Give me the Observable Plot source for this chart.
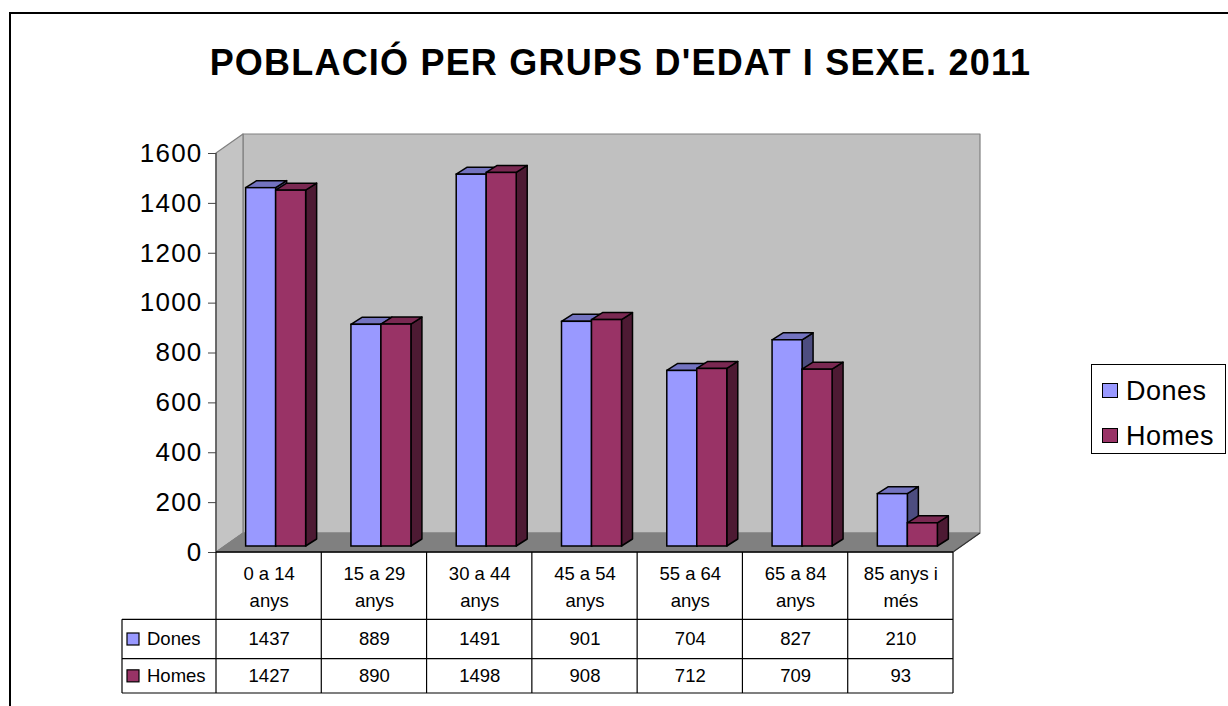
<!DOCTYPE html>
<html>
<head>
<meta charset="utf-8">
<script src="https://cdn.jsdelivr.net/npm/d3@7"></script>
<script src="https://cdn.jsdelivr.net/npm/@observablehq/plot@0.6"></script>
<style>
  html, body { margin: 0; padding: 0; background: #fff; }
  body { width: 1228px; height: 706px; position: relative; overflow: hidden; font-family: Arial, "Liberation Sans", sans-serif; }
  #frame { position: absolute; left: 8.5px; top: 12px; width: 1300px; height: 800px; border-left: 2.5px solid #000; border-top: 2.5px solid #000; box-sizing: border-box; }
  #title { position: absolute; left: 0; width: 1241px; top: 45px; text-align: center; font-weight: bold; font-size: 36px; line-height: 36px; letter-spacing: 1.2px; color: #000; white-space: nowrap; }
  #chart { position: absolute; left: 0; top: 0; }
  #legend { position: absolute; left: 1091px; top: 364px; width: 135px; height: 90px; border: 1px solid #000; box-sizing: border-box; background: #fff; }
  .li { position: absolute; left: 10px; height: 30px; font-size: 27px; line-height: 30px; letter-spacing: 0.5px; white-space: nowrap; }
  .sw { position: absolute; left: 0; top: 7px; width: 16px; height: 15px; border: 1px solid #000; box-sizing: border-box; }
  .li span.t { position: absolute; left: 24px; top: 0; }
  g[aria-label="y-axis tick label"] text { letter-spacing: 1.2px; }
</style>
</head>
<body>
<div id="frame"></div>
<div id="title">POBLACIÓ PER GRUPS D'EDAT I SEXE. 2011</div>
<div id="chart"></div>
<div id="legend"></div>
<script>
// ---------- data ----------
const categories = ["0 a 14 anys", "15 a 29 anys", "30 a 44 anys", "45 a 54 anys", "55 a 64 anys", "65 a 84 anys", "85 anys i més"];
const categoryLabels = ["0 a 14\nanys", "15 a 29\nanys", "30 a 44\nanys", "45 a 54\nanys", "55 a 64\nanys", "65 a 84\nanys", "85 anys i\nmés"];
const dones = [1437, 889, 1491, 901, 704, 827, 210];
const homes = [1427, 890, 1498, 908, 712, 709, 93];
const seriesNames = ["Dones", "Homes"];
const yTicks = [0, 200, 400, 600, 800, 1000, 1200, 1400, 1600];

// ---------- style ----------
const colors = {
  Dones: { front: "#9999FF", top: "#7373C0", side: "#4D4D80" },
  Homes: { front: "#993366", top: "#7A2952", side: "#4D1A33" }
};
const W = 1228, H = 706;
const mL = 223, mR = 268, mT = 153, mB = 154;
const bw = (W - mL - mR) / categories.length;
const barW = 30;
const barDY = -6;           // bars sit a little behind the front plane
const barDepth = [11, -7];  // 3D depth of bars
const wallDepth = [27, -19];
const tableShift = -7;      // table columns vs bar bands
const rowLines = [67.3, 106.7, 141]; // table rows below the floor edge
const legendColW = 94;

const rows = categories.map((c, i) => ({ cat: c, label: categoryLabels[i], Dones: dones[i], Homes: homes[i] }));

function poly(g, pts, fill, stroke, sw) {
  g.append("path")
    .attr("d", "M" + pts.map(p => p.join(",")).join("L") + "Z")
    .attr("fill", fill).attr("stroke", stroke).attr("stroke-width", sw)
    .attr("stroke-linejoin", "round");
}
function line(g, x1, y1, x2, y2, stroke, sw) {
  g.append("line").attr("x1", x1).attr("y1", y1).attr("x2", x2).attr("y2", y2)
    .attr("stroke", stroke).attr("stroke-width", sw);
}

// walls and floor
const walls = (index, scales) => {
  const g = d3.create("svg:g");
  const xr = scales.x.range();
  const x0 = Math.min(...xr) + tableShift, x1 = Math.max(...xr) + tableShift;
  const y0 = scales.y(0), yT = scales.y(1600);
  const [dx, dy] = wallDepth;
  poly(g, [[x0 + dx, yT + dy], [x1 + dx, yT + dy], [x1 + dx, y0 + dy], [x0 + dx, y0 + dy]], "#C0C0C0", "#808080", 1.2);
  poly(g, [[x0, yT], [x0 + dx, yT + dy], [x0 + dx, y0 + dy], [x0, y0]], "#C4C4C4", "#808080", 1.2);
  poly(g, [[x0, y0], [x1, y0], [x1 + dx, y0 + dy], [x0 + dx, y0 + dy]], "#808080", "#808080", 1);
  line(g, x1, y0, x1 + dx, y0 + dy, "#333", 1.2);
  line(g, x0, yT, x0, y0, "#555", 1.5);
  return g.node();
};

// top & side faces of the bars
function faces(series, insetL, insetR) {
  return (index, scales) => {
    const g = d3.create("svg:g");
    const b = scales.x.bandwidth ? scales.x.bandwidth() : bw;
    const [dx, dy] = barDepth;
    rows.forEach(r => {
      const xl = scales.x(r.cat) + insetL, xr = scales.x(r.cat) + b - insetR;
      const yt = scales.y(r[series]) + barDY, yb = scales.y(0) + barDY;
      poly(g, [[xr, yt], [xr + dx, yt + dy], [xr + dx, yb + dy], [xr, yb]], colors[series].side, "#000", 1.5);
      poly(g, [[xl, yt], [xl + dx, yt + dy], [xr + dx, yt + dy], [xr, yt]], colors[series].top, "#000", 1.5);
    });
    return g.node();
  };
}

// data table grid + row legend
const tableGrid = (index, scales) => {
  const g = d3.create("svg:g");
  const b = scales.x.bandwidth ? scales.x.bandwidth() : bw;
  const y0 = scales.y(0);
  const xs = categories.map(c => scales.x(c) + tableShift);
  const x0 = xs[0], x1 = xs[xs.length - 1] + b;
  const xl = x0 - legendColW;
  line(g, x0, y0, x1, y0, "#000", 1.3);
  xs.concat([x1]).forEach(x => line(g, x, y0, x, y0 + rowLines[2], "#000", 1.2));
  rowLines.forEach(dy => line(g, xl, y0 + dy, x1, y0 + dy, "#000", 1.2));
  line(g, xl, y0 + rowLines[0], xl, y0 + rowLines[2], "#000", 1.2);
  const rowMid = [(rowLines[0] + rowLines[1]) / 2, (rowLines[1] + rowLines[2]) / 2];
  seriesNames.forEach((s, k) => {
    const yc = y0 + rowMid[k];
    g.append("rect").attr("x", xl + 5).attr("y", yc - 6).attr("width", 12).attr("height", 12)
      .attr("fill", colors[s].front).attr("stroke", "#000").attr("stroke-width", 1.2);
    g.append("text").attr("x", xl + 25).attr("y", yc).attr("dy", "0.35em")
      .attr("text-anchor", "start")
      .attr("font-size", 18.5).attr("fill", "#000").text(s);
  });
  return g.node();
};

const insetHalf = bw / 2;
const chart = Plot.plot({
  width: W, height: H,
  marginLeft: mL, marginRight: mR, marginTop: mT, marginBottom: mB,
  x: { domain: categories, padding: 0, round: false, axis: null },
  y: { domain: [0, 1600], axis: null },
  style: { fontFamily: 'Arial, "Liberation Sans", sans-serif', fontSize: "18.5px", background: "transparent", color: "#000", overflow: "visible" },
  marks: [
    walls,
    Plot.axisY({ ticks: yTicks, tickSize: 8, tickPadding: 6, dx: tableShift, fontSize: 26, stroke: "#444", fill: "#000", tickFormat: d => String(d) }),
    faces("Dones", insetHalf - barW, insetHalf),
    Plot.barY(rows, { x: "cat", y: "Dones", fill: colors.Dones.front, stroke: "#000", strokeWidth: 1.5, insetLeft: insetHalf - barW, insetRight: insetHalf, dy: barDY }),
    faces("Homes", insetHalf, insetHalf - barW),
    Plot.barY(rows, { x: "cat", y: "Homes", fill: colors.Homes.front, stroke: "#000", strokeWidth: 1.5, insetLeft: insetHalf, insetRight: insetHalf - barW, dy: barDY }),
    tableGrid,
    Plot.text(rows, { x: "cat", text: "label", frameAnchor: "bottom", dx: tableShift, dy: 32, lineAnchor: "middle", lineHeight: 1.46, fontSize: 18.5, fill: "#000" }),
    Plot.text(rows, { x: "cat", text: d => String(d.Dones), frameAnchor: "bottom", dx: tableShift, dy: (rowLines[0] + rowLines[1]) / 2, lineAnchor: "middle", fontSize: 18.5, fill: "#000" }),
    Plot.text(rows, { x: "cat", text: d => String(d.Homes), frameAnchor: "bottom", dx: tableShift, dy: (rowLines[1] + rowLines[2]) / 2, lineAnchor: "middle", fontSize: 18.5, fill: "#000" })
  ]
});
document.getElementById("chart").appendChild(chart);

// legend
const leg = document.getElementById("legend");
seriesNames.forEach((s, k) => {
  const li = document.createElement("div");
  li.className = "li";
  li.style.top = (11 + k * 45) + "px";
  li.innerHTML = `<div class="sw" style="background:${colors[s].front}"></div><span class="t">${s}</span>`;
  leg.appendChild(li);
});
</script>
</body>
</html>
